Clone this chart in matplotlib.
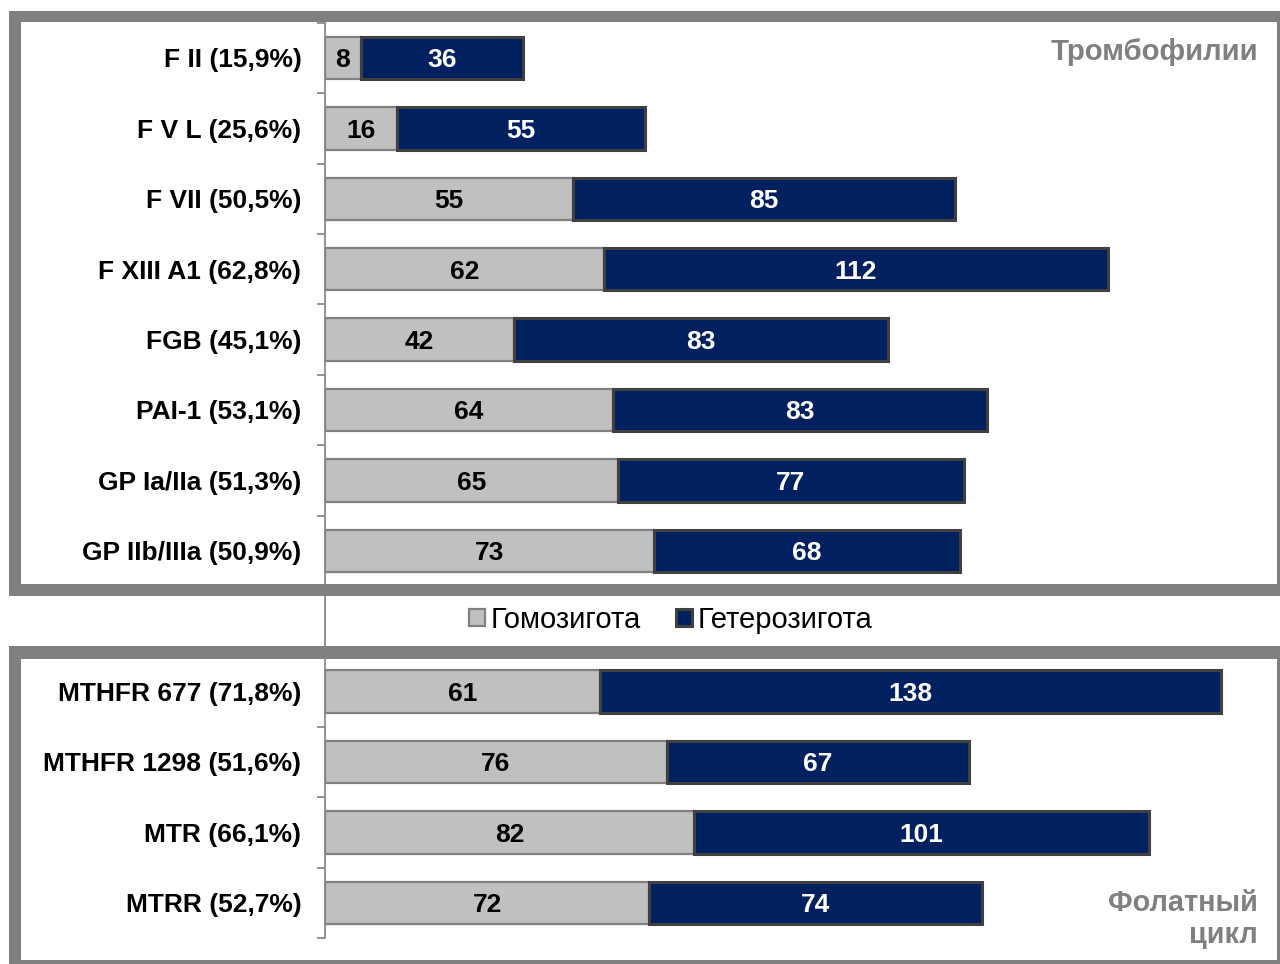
import numpy as np
import matplotlib
matplotlib.use("Agg")
import matplotlib.pyplot as plt
from matplotlib.patches import Rectangle

plt.rcParams['font.family'] = ['Liberation Sans', 'DejaVu Sans']

# thrombophilia genes
thromb_labels = ["F II (15,9%)", "F V L (25,6%)", "F VII (50,5%)", "F XIII A1 (62,8%)",
                 "FGB (45,1%)", "PAI-1 (53,1%)", "GP Ia/IIa (51,3%)", "GP IIb/IIIa (50,9%)"]
thromb_homo = [8, 16, 55, 62, 42, 64, 65, 73]
thromb_hetero = [36, 55, 85, 112, 83, 83, 77, 68]

# folate cycle genes
folate_labels = ["MTHFR 677 (71,8%)", "MTHFR 1298 (51,6%)", "MTR (66,1%)", "MTRR (52,7%)"]
folate_homo = [61, 76, 82, 72]
folate_hetero = [138, 67, 101, 74]

series_names = ["Гомозигота", "Гетерозигота"]
group_titles = ["Тромбофилии", "Фолатный\nцикл"]

GRAY = "#C0C0C0"
GRAY_EDGE = "#808080"
NAVY = "#002060"
NAVY_EDGE = "#404040"
FRAME = "#808080"

W, H = 1280, 964
fig = plt.figure(figsize=(W / 100, H / 100), dpi=100)

# one row slot left empty between the two groups for the legend
labels = thromb_labels + folate_labels
homo = np.array(thromb_homo + folate_homo)
hetero = np.array(thromb_hetero + folate_hetero)
ypos = np.r_[np.arange(len(thromb_labels)), np.arange(len(folate_labels)) + len(thromb_labels) + 1]
n_slots = len(thromb_labels) + len(folate_labels) + 1

px_per_unit = 4.5
ax = fig.add_axes([325 / W, 1 - 938 / H, (W - 325) / W, (938 - 22.8) / H])
ax.set_xlim(0, (W - 325) / px_per_unit)
ax.set_ylim(n_slots - 0.5, -0.5)

b1 = ax.barh(ypos, homo, height=0.6, color=GRAY, edgecolor=GRAY_EDGE, linewidth=1.6,
             label=series_names[0], zorder=3)
b2 = ax.barh(ypos, hetero, left=homo, height=0.6, color=NAVY, edgecolor=NAVY_EDGE,
             linewidth=2.2, label=series_names[1], zorder=3)

for y, h, t in zip(ypos, homo, hetero):
    ax.text(h / 2, y, str(h), ha="center", va="center_baseline", fontsize=19,
            fontweight="bold", color="black", zorder=4)
    ax.text(h + t / 2, y, str(t), ha="center", va="center_baseline", fontsize=19,
            fontweight="bold", color="white", zorder=4)

ax.set_yticks(ypos)
ax.set_yticklabels(labels, fontsize=19, fontweight="bold", va="center_baseline")
ax.tick_params(axis="y", which="major", length=0, pad=17)
ax.set_yticks(np.arange(n_slots + 1) - 0.5, minor=True)
ax.tick_params(axis="y", which="minor", length=6, width=1.2, color=FRAME, direction="out")
ax.set_xticks([])
for s in ["top", "right", "bottom"]:
    ax.spines[s].set_visible(False)
ax.spines["left"].set_color(FRAME)
ax.spines["left"].set_linewidth(1.2)
ax.patch.set_alpha(0)


def band(x0, y0, x1, y1):
    # filled strip given in pixel coords measured from the top-left corner
    fig.add_artist(Rectangle((x0 / W, 1 - y1 / H), (x1 - x0) / W, (y1 - y0) / H,
                             transform=fig.transFigure, facecolor=FRAME,
                             edgecolor="none", zorder=5))


# upper frame
band(9, 11, W, 22)
band(9, 11, 21, 596)
band(9, 584, W, 596)
band(1277, 11, W, 596)
# lower frame
band(9, 646, W, 659)
band(9, 646, 21, H)
band(9, 960, W, H)
band(1277, 646, W, H)

fig.text(1258 / W, 1 - 52 / H, group_titles[0], ha="right", va="center", fontsize=21.2,
         fontweight="bold", color=FRAME)
fig.text(1258 / W, 1 - 919 / H, group_titles[1], ha="right", va="center", fontsize=20.8,
         fontweight="bold", color=FRAME, linespacing=1.2)

fig.legend(handles=[b1, b2], loc="center", bbox_to_anchor=(671 / W, 1 - 620 / H),
           ncol=2, frameon=False, fontsize=21, handlelength=0.55, handleheight=0.55,
           handletextpad=0.2, columnspacing=1.2)

fig.savefig("out.png", dpi=100)
